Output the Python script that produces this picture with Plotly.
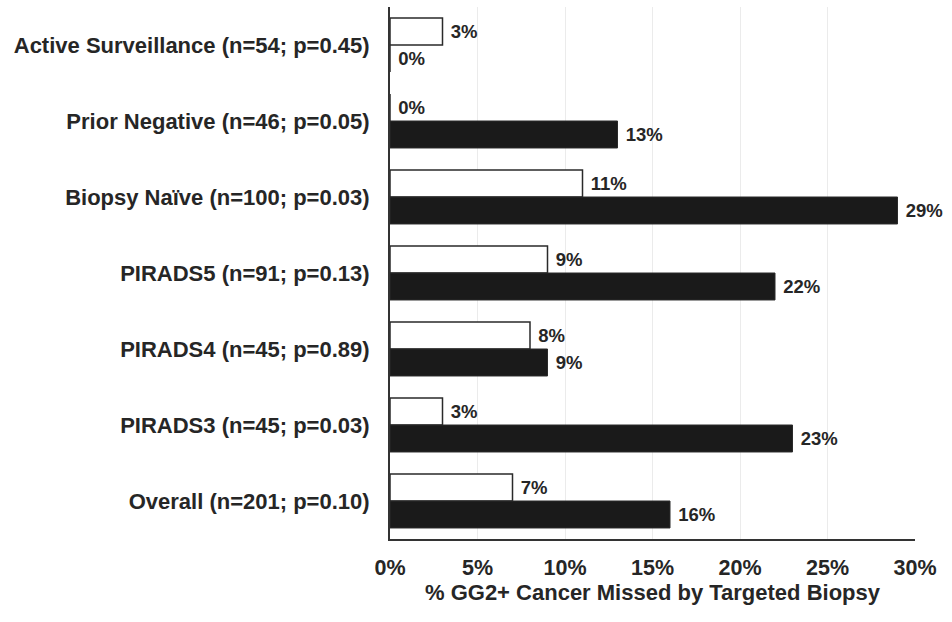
import plotly.graph_objects as go

categories = [
    "Active Surveillance (n=54; p=0.45)",
    "Prior Negative (n=46; p=0.05)",
    "Biopsy Naïve (n=100; p=0.03)",
    "PIRADS5 (n=91; p=0.13)",
    "PIRADS4 (n=45; p=0.89)",
    "PIRADS3 (n=45; p=0.03)",
    "Overall (n=201; p=0.10)",
]
white_values = [3, 0, 11, 9, 8, 3, 7]
black_values = [0, 13, 29, 22, 9, 23, 16]
tick_vals = [0, 5, 10, 15, 20, 25, 30]
tick_text = ["0%", "5%", "10%", "15%", "20%", "25%", "30%"]

FONT = "Liberation Sans, Arial, sans-serif"
TXT = "#262626"
PAD = "\u00a0"

fig = go.Figure()
fig.add_trace(go.Bar(
    y=categories, x=white_values, orientation="h",
    marker=dict(color="white", line=dict(color="#2a2a2a", width=1.5)),
    text=[f"{PAD}<b>{v}%</b>" for v in white_values], textposition="outside",
    textfont=dict(family=FONT, size=18.5, color=TXT),
    cliponaxis=False, showlegend=False,
))
fig.add_trace(go.Bar(
    y=categories, x=black_values, orientation="h",
    marker=dict(color="#1a1a1a", line=dict(color="#2a2a2a", width=1)),
    text=[f"{PAD}<b>{v}%</b>" for v in black_values], textposition="outside",
    textfont=dict(family=FONT, size=18.5, color=TXT),
    cliponaxis=False, showlegend=False,
))

fig.update_layout(
    width=952, height=622,
    margin=dict(l=390, r=37, t=7, b=83),
    paper_bgcolor="white", plot_bgcolor="white",
    barmode="group", bargap=0.29, bargroupgap=0,
    font=dict(family=FONT, color=TXT),
)
fig.update_xaxes(
    range=[0, 30], tickvals=tick_vals,
    ticktext=[f"<b>{t}</b>" for t in tick_text],
    tickfont=dict(family=FONT, size=21.5, color=TXT),
    showgrid=True, gridcolor="#ebebeb", gridwidth=1,
    showline=True, linecolor="#333333", linewidth=2,
    zeroline=False, ticks="", ticklabelstandoff=8,
    title=dict(text="<b>% GG2+ Cancer Missed by Targeted Biopsy</b>",
               font=dict(family=FONT, size=22, color=TXT), standoff=5),
)
fig.update_yaxes(
    autorange="reversed",
    tickvals=categories,
    ticktext=[f"<b>{c}</b>" for c in categories],
    tickfont=dict(family=FONT, size=22, color=TXT),
    showline=True, linecolor="#333333", linewidth=2,
    showgrid=False, ticks="", ticklabelstandoff=14,
)

fig.write_html("out.html")
